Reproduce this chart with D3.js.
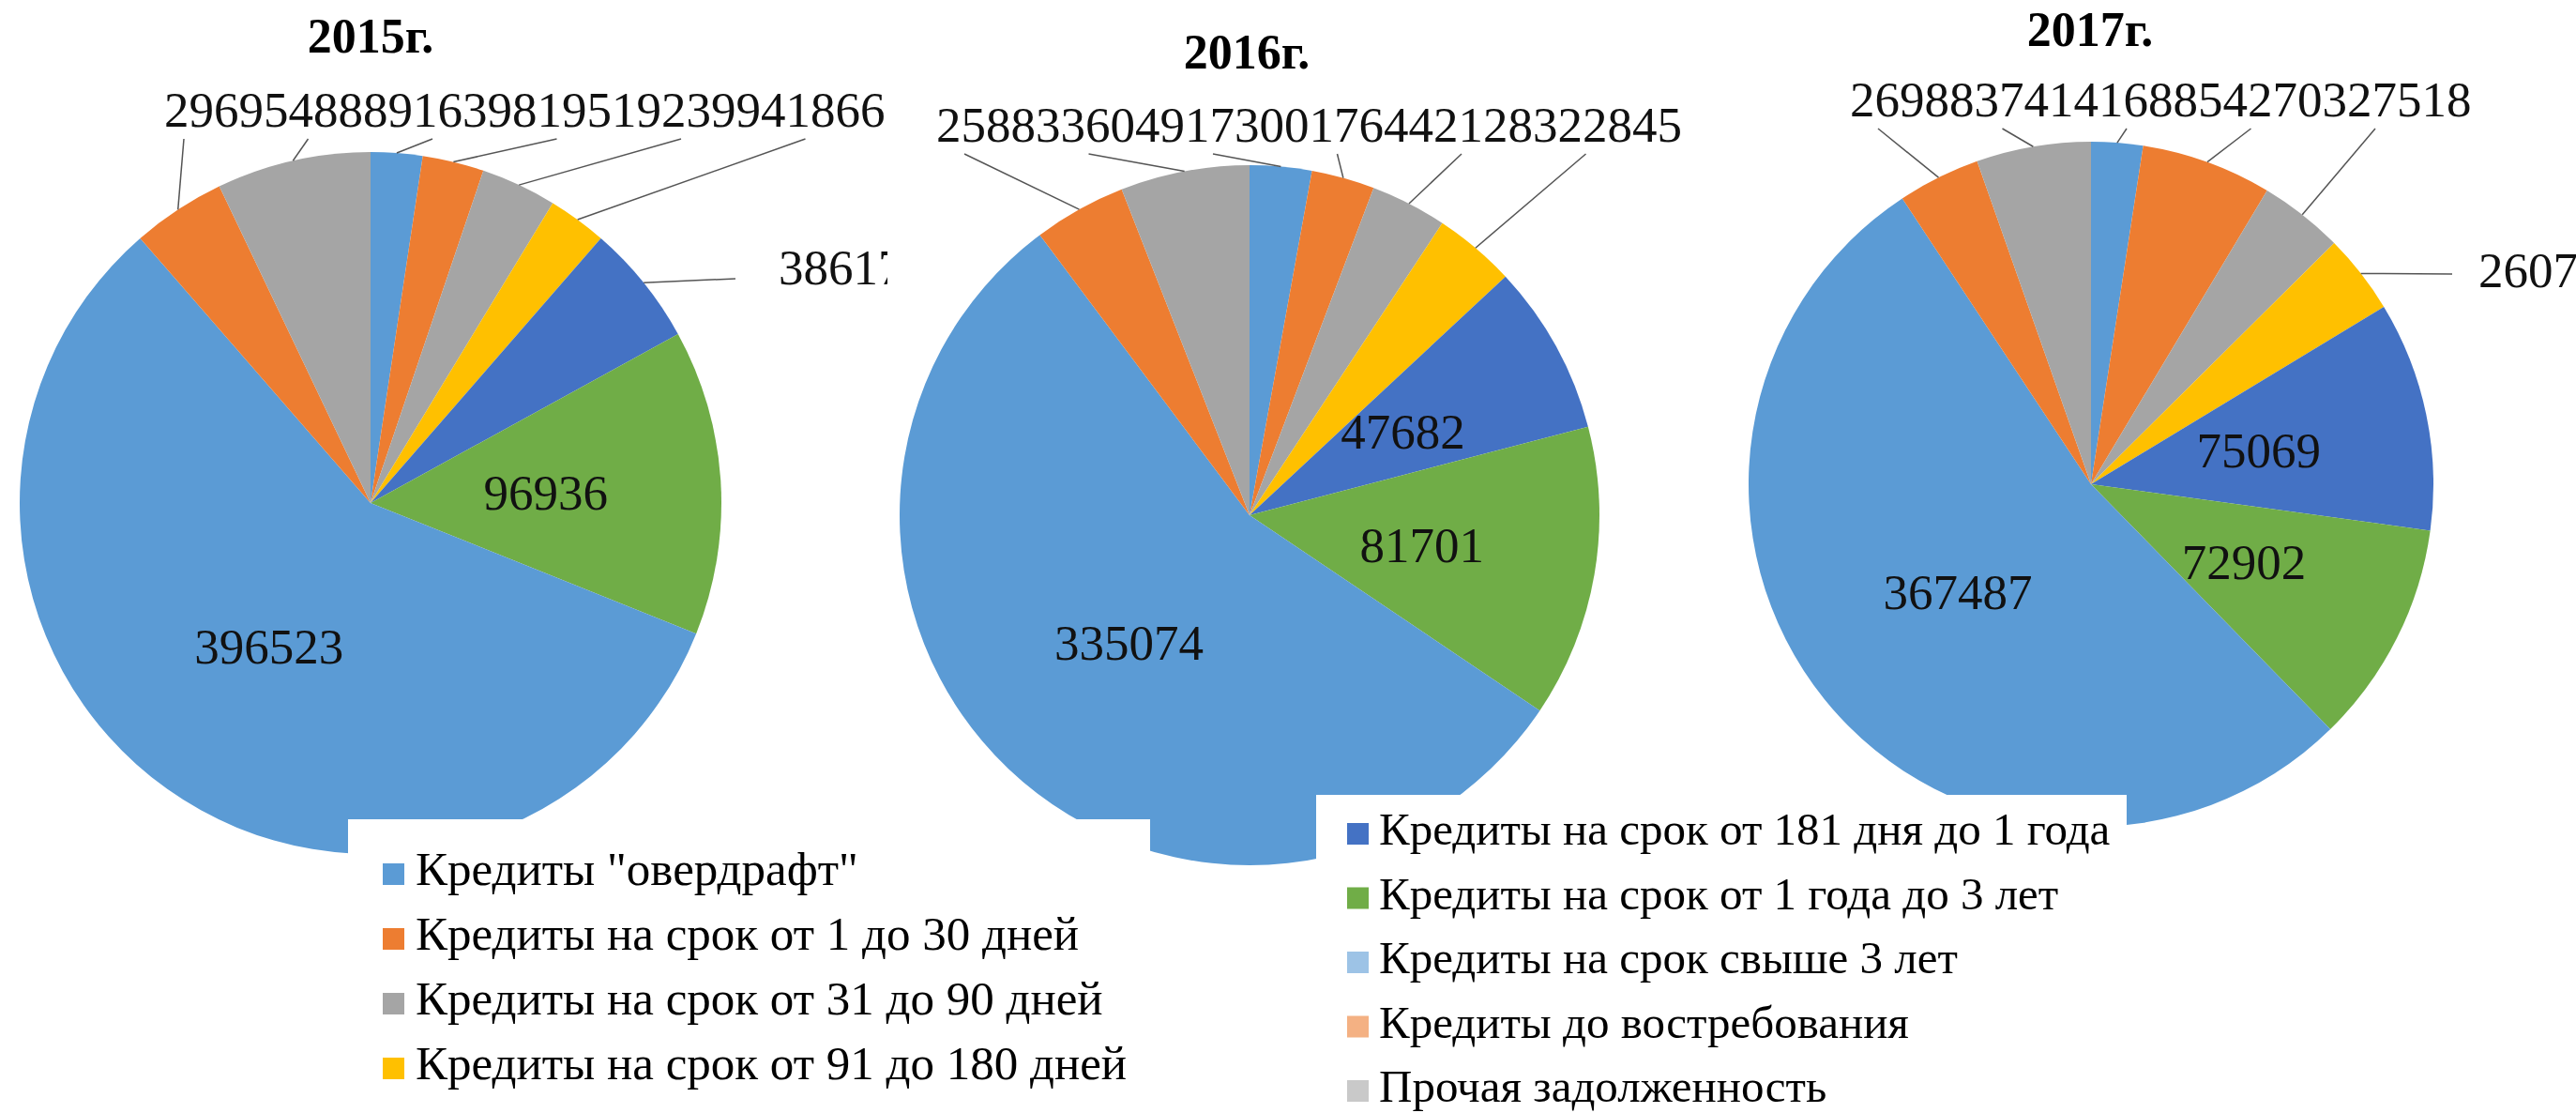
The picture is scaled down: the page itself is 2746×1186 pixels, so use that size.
<!DOCTYPE html>
<html>
<head>
<meta charset="utf-8">
<script src="https://cdn.jsdelivr.net/npm/d3@7"></script>
<style>
  html, body { margin: 0; padding: 0; background: #fff; }
  svg { display: block; }
</style>
</head>
<body>
<svg id="chart" width="2746" height="1186"></svg>
<script>
// ---------- DATA ----------
const categories = [
  'Кредиты "овердрафт"',
  'Кредиты на срок от 1 до 30 дней',
  'Кредиты на срок от 31 до 90 дней',
  'Кредиты на срок от 91 до 180 дней',
  'Кредиты на срок от 181 дня до 1 года',
  'Кредиты на срок от 1 года до 3 лет',
  'Кредиты на срок свыше 3 лет',
  'Кредиты до востребования',
  'Прочая задолженность'
];
const years = ["2015г.", "2016г.", "2017г."];
const values2015 = [16398, 19519, 23994, 18661, 38617, 96936, 396523, 29695, 48889];
const values2016 = [17300, 17644, 21283, 22845, 47682, 81701, 335074, 25883, 36049];
const values2017 = [16885, 42703, 27518, 26075, 75069, 72902, 367487, 26988, 37414];

// ---------- STYLE / LAYOUT ----------
const sliceColors  = ["#5B9BD5","#ED7D31","#A5A5A5","#FFC000","#4472C4","#70AD47","#5B9BD5","#ED7D31","#A5A5A5"];
const legendColors = ["#5B9BD5","#ED7D31","#A5A5A5","#FFC000","#4472C4","#70AD47","#9DC3E6","#F4B183","#C9C9C9"];
const serif = "'Liberation Serif','Times New Roman',serif";

const layouts = [
  { values: values2015, cx: 395, cy: 536, r: 374, titleX: 395, titleY: 56,
    rowX: 175, rowY: 135, rowOff: 21, row: [7, 8, 0, 1, 2, 3],
    side: [{ i: 4, x: 830, y: 303, lx: 784, ly: 297 }], inside: [5, 6],
    clip: [0, 0, 946, 1186] },
  { values: values2016, cx: 1332, cy: 549, r: 373, titleX: 1329, titleY: 73,
    rowX: 998, rowY: 151, rowOff: 30, row: [7, 8, 0, 1, 2, 3],
    side: [], inside: [4, 5, 6], clip: null },
  { values: values2017, cx: 2229, cy: 516, r: 365, titleX: 2228, titleY: 49,
    rowX: 1972, rowY: 124, rowOff: 30, row: [7, 8, 0, 1, 2],
    side: [{ i: 3, x: 2642, y: 306, lx: 2614, ly: 292 }], inside: [4, 5, 6],
    clip: null }
];

const svg = d3.select("#chart");
svg.append("rect").attr("width", 2746).attr("height", 1186).attr("fill", "#fff");
const defs = svg.append("defs");

const pie = d3.pie().sort(null).value(d => d);
const NUM_FS = 53;

layouts.forEach((L, k) => {
  let g = svg.append("g");
  if (L.clip) {
    const id = "clip" + k;
    defs.append("clipPath").attr("id", id).append("rect")
      .attr("x", L.clip[0]).attr("y", L.clip[1]).attr("width", L.clip[2]).attr("height", L.clip[3]);
    g.attr("clip-path", `url(#${id})`);
  }
  const arcs = pie(L.values);
  const arc = d3.arc().innerRadius(0).outerRadius(L.r);
  const edge = d3.arc().innerRadius(L.r).outerRadius(L.r);
  const pg = g.append("g").attr("transform", `translate(${L.cx},${L.cy})`);
  pg.selectAll("path").data(arcs).join("path")
    .attr("d", arc).attr("fill", (d, i) => sliceColors[i])
    .attr("stroke", "none");

  // title
  g.append("text").attr("x", L.titleX).attr("y", L.titleY)
    .attr("text-anchor", "middle").attr("font-family", serif)
    .attr("font-weight", "bold").attr("font-size", 52).attr("fill", "#000")
    .text(years[k]);

  // inside labels
  L.inside.forEach(i => {
    const c = arc.centroid(arcs[i]);
    pg.append("text").attr("x", c[0]).attr("y", c[1]).attr("dy", "0.35em")
      .attr("text-anchor", "middle").attr("font-family", serif)
      .attr("font-size", NUM_FS).attr("fill", "#111")
      .text(L.values[i]);
  });

  // top row labels (touching each other) with leader lines
  let x = L.rowX;
  L.row.forEach(i => {
    const t = g.append("text").attr("x", x).attr("y", L.rowY)
      .attr("font-family", serif).attr("font-size", NUM_FS).attr("fill", "#111")
      .text(L.values[i]);
    const w = t.node().getComputedTextLength();
    const p = edge.centroid(arcs[i]);
    g.append("line")
      .attr("x1", x + L.rowOff).attr("y1", L.rowY + 13)
      .attr("x2", L.cx + p[0]).attr("y2", L.cy + p[1])
      .attr("stroke", "#555").attr("stroke-width", 1.5);
    x += w;
  });

  // side labels
  L.side.forEach(s => {
    g.append("text").attr("x", s.x).attr("y", s.y)
      .attr("font-family", serif).attr("font-size", NUM_FS).attr("fill", "#111")
      .text(L.values[s.i]);
    const p = edge.centroid(arcs[s.i]);
    g.append("line")
      .attr("x1", s.lx).attr("y1", s.ly)
      .attr("x2", L.cx + p[0]).attr("y2", L.cy + p[1])
      .attr("stroke", "#555").attr("stroke-width", 1.5);
  });
});

// ---------- LEGENDS ----------
const legends = [
  { items: [0, 1, 2, 3], x: 371, y: 873, w: 855, tx: 443, sx: 408, y0: 943, dy: 69, fs: 51 },
  { items: [4, 5, 6, 7, 8], x: 1403, y: 847, w: 864, tx: 1470, sx: 1436, y0: 900, dy: 68.5, fs: 49 }
];
legends.forEach(Lg => {
  const lg = svg.append("g");
  lg.append("rect").attr("x", Lg.x).attr("y", Lg.y).attr("width", Lg.w)
    .attr("height", 1186 - Lg.y).attr("fill", "#fff");
  Lg.items.forEach((i, j) => {
    const by = Lg.y0 + j * Lg.dy;
    lg.append("rect").attr("x", Lg.sx).attr("y", by - 23).attr("width", 23).attr("height", 23)
      .attr("fill", legendColors[i]);
    lg.append("text").attr("x", Lg.tx).attr("y", by)
      .attr("font-family", serif).attr("font-size", Lg.fs).attr("fill", "#000")
      .text(categories[i]);
  });
});
</script>
</body>
</html>
